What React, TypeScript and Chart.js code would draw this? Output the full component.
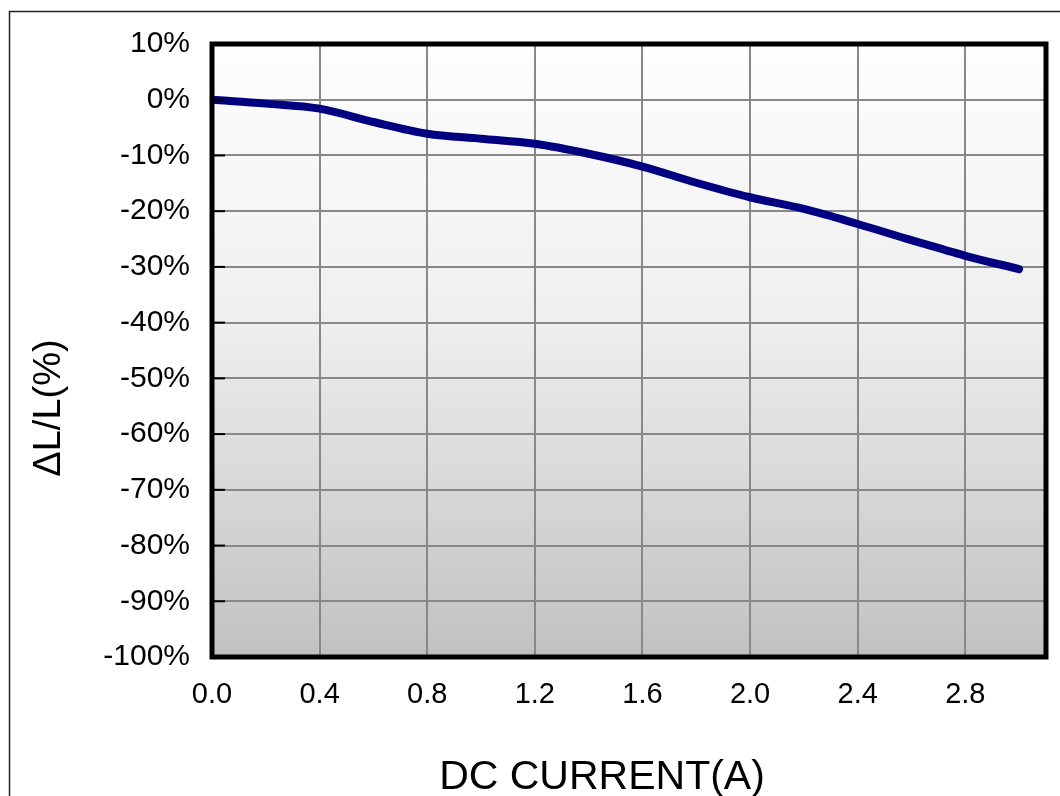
import React, { useEffect, useRef } from "react";
import { Chart, registerables } from "chart.js";

Chart.register(...registerables);

const currentA = [0, 0.2, 0.4, 0.6, 0.8, 1.0, 1.2, 1.4, 1.6, 1.8, 2.0, 2.2, 2.4, 2.6, 2.8, 3.0];
const deltaLPct = [0, -0.7, -1.6, -4.0, -6.1, -7.0, -7.9, -9.7, -12.0, -14.9, -17.5, -19.6, -22.3, -25.2, -28.0, -30.4];
const xTickStep = 0.4;
const yTickStep = 10;
const xMin = 0;
const xMax = 3.1;
const yMin = -100;
const yMax = 10;
const xTitle = "DC CURRENT(A)";
const yTitle = "ΔL/L(%)";

const FONT = "'Liberation Sans', Arial, sans-serif";

const decorPlugin = {
  id: "decor",
  beforeDraw(chart: any) {
    const { ctx, chartArea } = chart;
    const { left, top, right, bottom } = chartArea;
    ctx.save();
    ctx.fillStyle = "#ffffff";
    ctx.fillRect(0, 0, chart.width, chart.height);
    const g = ctx.createLinearGradient(0, top, 0, bottom);
    g.addColorStop(0, "#fefefe");
    g.addColorStop(0.45, "#efefef");
    g.addColorStop(1, "#c1c1c1");
    ctx.fillStyle = g;
    ctx.fillRect(left, top, right - left, bottom - top);
    // outer frame
    ctx.strokeStyle = "#222";
    ctx.lineWidth = 1.5;
    ctx.beginPath();
    ctx.moveTo(9.5, chart.height);
    ctx.lineTo(9.5, 11.5);
    ctx.lineTo(chart.width, 11.5);
    ctx.stroke();
    ctx.restore();
  },
  afterDraw(chart: any) {
    const { ctx, chartArea, scales } = chart;
    const { left, top, right, bottom } = chartArea;
    ctx.save();
    // inward ticks on the left axis
    ctx.strokeStyle = "#000";
    ctx.lineWidth = 2;
    scales.y.ticks.forEach((t: any) => {
      const py = scales.y.getPixelForValue(t.value);
      ctx.beginPath();
      ctx.moveTo(left, py);
      ctx.lineTo(left + 13, py);
      ctx.stroke();
    });
    // plot frame
    ctx.lineWidth = 5;
    ctx.strokeStyle = "#000";
    ctx.strokeRect(left, top, right - left, bottom - top);
    // titles
    ctx.fillStyle = "#000";
    ctx.textAlign = "center";
    ctx.textBaseline = "alphabetic";
    ctx.font = `41px ${FONT}`;
    ctx.fillText(xTitle, 602, 789);
    ctx.translate(60, 408);
    ctx.rotate(-Math.PI / 2);
    ctx.font = `38px ${FONT}`;
    ctx.fillText(yTitle, 0, 0);
    ctx.restore();
  },
};

export default function App() {
  const ref = useRef<HTMLCanvasElement | null>(null);
  useEffect(() => {
    document.body.style.margin = "0";
    const canvas = ref.current!;
    const chart = new Chart(canvas, {
      type: "line",
      data: {
        datasets: [
          {
            data: currentA.map((x, i) => ({ x, y: deltaLPct[i] })),
            borderColor: "#000080",
            borderWidth: 8,
            pointRadius: 0,
            cubicInterpolationMode: "monotone",
            borderCapStyle: "round",
            borderJoinStyle: "round",
            fill: false,
          },
        ],
      },
      options: {
        responsive: false,
        animation: false,
        devicePixelRatio: 1,
        layout: { padding: { left: 0, right: 14, top: 44, bottom: 0 } },
        plugins: { legend: { display: false }, tooltip: { enabled: false } },
        scales: {
          x: {
            type: "linear",
            min: xMin,
            max: xMax,
            afterFit: (s: any) => {
              s.height = 139;
            },
            border: { display: false },
            grid: { color: "#888888", lineWidth: 2, drawTicks: false },
            ticks: {
              stepSize: xTickStep,
              includeBounds: false,
              color: "#000",
              font: { family: FONT, size: 29 },
              padding: 21,
              maxRotation: 0,
              callback: (v: any) => Number(v).toFixed(1),
            },
          },
          y: {
            type: "linear",
            min: yMin,
            max: yMax,
            afterFit: (s: any) => {
              s.width = 212;
            },
            border: { display: false },
            grid: { color: "#888888", lineWidth: 2, drawTicks: false },
            ticks: {
              stepSize: yTickStep,
              color: "#000",
              font: { family: FONT, size: 30 },
              padding: 22,
              callback: (v: any) => `${v}%`,
            },
          },
        },
      },
      plugins: [decorPlugin],
    } as any);
    return () => chart.destroy();
  }, []);
  return (
    <div style={{ position: "fixed", left: 0, top: 0, width: 1060, height: 796, background: "#fff" }}>
      <canvas ref={ref} width={1060} height={796} style={{ display: "block" }} />
    </div>
  );
}
